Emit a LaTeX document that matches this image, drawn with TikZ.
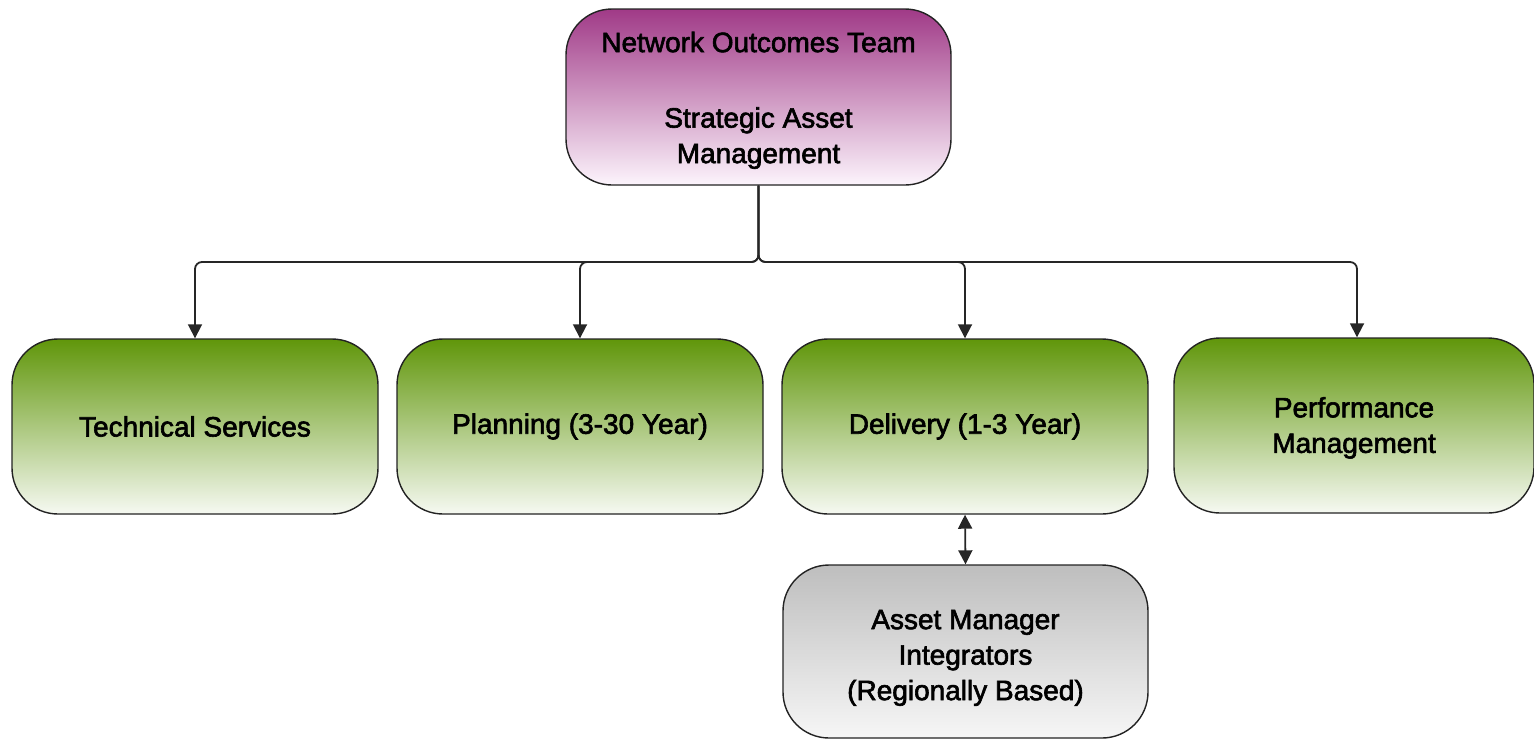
\documentclass[tikz,border=0pt]{standalone}
\usepackage{fontspec}
\setmainfont{Liberation Sans}[FakeBold=2.2]
\usetikzlibrary{arrows.meta,positioning}
\definecolor{purptop}{RGB}{160,58,135}
\definecolor{purpbot}{RGB}{252,244,252}
\definecolor{greentop}{RGB}{96,150,10}
\definecolor{greenbot}{RGB}{246,249,242}
\definecolor{graytop}{RGB}{190,190,190}
\definecolor{graybot}{RGB}{246,246,246}
\definecolor{edge}{RGB}{35,35,35}
\tikzset{
  box/.style={draw=edge, line width=1.4pt, rectangle, rounded corners=46pt,
    align=center, inner sep=0pt, font=\fontsize{28}{35.5}\selectfont, text=black},
  purplebox/.style={box, top color=purptop, bottom color=purpbot},
  greenbox/.style={box, top color=greentop, bottom color=greenbot,
    minimum width=366pt, minimum height=175pt},
  graybox/.style={box, top color=graytop, bottom color=graybot},
  conn/.style={draw=black!85, line width=1.8pt, rounded corners=7pt,
    -{Triangle[length=14pt,width=14pt]}},
  dconn/.style={draw=black!85, line width=1.8pt,
    {Triangle[length=14pt,width=14pt]}-{Triangle[length=14pt,width=14pt]}}
}
\begin{document}
\begin{tikzpicture}[x=1pt,y=-1pt]
\useasboundingbox (0,0) rectangle (1534,740);
\node[purplebox, minimum width=385pt, minimum height=176pt] (top) at (758.5,97)
  {\rule{0pt}{27pt}Network Outcomes Team\\[40pt]Strategic Asset\\Management};
\node[greenbox] (ts) at (195,426.5) {Technical Services};
\node[greenbox] (pl) at (580,426.5) {Planning (3-30 Year)};
\node[greenbox] (dl) at (965,426.5) {Delivery (1-3 Year)};
\node[greenbox, minimum width=360pt] (pm) at (1354,425.5) {\rule{0pt}{25pt}Performance\\Management};
\node[graybox, minimum width=365pt, minimum height=173pt] (ami) at (965.5,651.5)
  {\rule{0pt}{32pt}Asset Manager\\Integrators\\(Regionally Based)};
\coordinate (j) at (758.5,262);
\draw[conn] (top.south) -- (j) -| (ts.north);
\draw[conn] (top.south) -- (j) -| (pl.north);
\draw[conn] (top.south) -- (j) -| (dl.north);
\draw[conn] (top.south) -- (j) -| ([xshift=3pt]pm.north);
\draw[dconn] (dl.south) -- (ami.north);
\end{tikzpicture}
\end{document}
